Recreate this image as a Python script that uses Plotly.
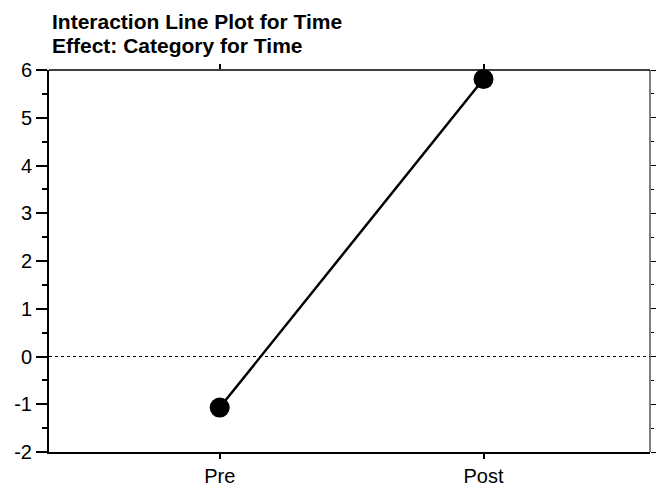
import plotly.graph_objects as go

# Interaction means for the Time effect
time_levels = ["Pre", "Post"]
means = [-1.07, 5.81]
y_ticks = [-2, -1, 0, 1, 2, 3, 4, 5, 6]
y_tick_text = ["-2", "-1", "0", "1", "2", "3", "4", "5", "6"]

title_line1 = "Interaction Line Plot for Time"
title_line2 = "Effect: Category for Time"

font_family = "Liberation Sans, Arial, sans-serif"

fig = go.Figure()

fig.add_trace(go.Scatter(
    x=time_levels, y=means,
    mode="lines+markers",
    line=dict(color="black", width=2.5),
    marker=dict(color="black", size=20),
    showlegend=False,
    cliponaxis=False,
))

# invisible trace to carry the mirrored tick axes on top / right
fig.add_trace(go.Scatter(
    x=time_levels, y=means, xaxis="x2", yaxis="y2",
    mode="markers", marker=dict(opacity=0), showlegend=False, hoverinfo="skip",
))

x_range = [-0.647, 1.631]
y_range = [-2, 6]

fig.update_layout(
    width=656, height=489,
    margin=dict(l=49, r=1, t=70, b=37),
    plot_bgcolor="white", paper_bgcolor="white",
    font=dict(family=font_family, color="black", size=20),
    xaxis=dict(
        type="category", range=x_range,
        showgrid=False, zeroline=False,
        showline=True, linecolor="black", linewidth=2,
        ticks="outside", ticklen=5, tickwidth=2, tickcolor="black",
        tickfont=dict(size=20),
    ),
    yaxis=dict(
        range=y_range, tickvals=y_ticks, ticktext=y_tick_text,
        showgrid=False, zeroline=False,
        showline=True, linecolor="black", linewidth=2,
        ticks="outside", ticklen=11, tickwidth=1.5, tickcolor="black",
        tickfont=dict(size=20),
        minor=dict(dtick=0.5, ticks="outside", ticklen=5, tickwidth=1.5, tickcolor="black"),
    ),
    xaxis2=dict(
        type="category", range=x_range, overlaying="x", side="top",
        showgrid=False, zeroline=False, showline=False, showticklabels=False,
        ticks="outside", ticklen=5, tickwidth=2, tickcolor="black",
    ),
    yaxis2=dict(
        range=y_range, overlaying="y", side="right",
        tickvals=y_ticks, showgrid=False, zeroline=False, showline=False,
        showticklabels=False,
        ticks="outside", ticklen=5, tickwidth=1, tickcolor="black",
        minor=dict(dtick=0.5, ticks="outside", ticklen=3, tickwidth=1, tickcolor="black"),
    ),
    shapes=[
        # dotted reference line at zero
        dict(type="line", xref="paper", yref="y", x0=0, x1=1, y0=0, y1=0,
             line=dict(color="black", width=1, dash="dot"), layer="below"),
        # thin top and right frame
        dict(type="line", xref="paper", yref="paper", x0=0, x1=1, y0=1, y1=1,
             line=dict(color="black", width=1.5)),
        dict(type="line", xref="paper", yref="paper", x0=1, x1=1, y0=0, y1=1,
             line=dict(color="black", width=1)),
    ],
    annotations=[
        dict(text="<b>" + title_line1 + "</b>", xref="paper", yref="paper",
             x=0, y=1, xanchor="left", yanchor="middle", xshift=1, yshift=49,
             showarrow=False, font=dict(size=21, family=font_family)),
        dict(text="<b>" + title_line2 + "</b>", xref="paper", yref="paper",
             x=0, y=1, xanchor="left", yanchor="middle", xshift=1, yshift=25,
             showarrow=False, font=dict(size=21, family=font_family)),
    ],
)

fig.write_html("out.html")
